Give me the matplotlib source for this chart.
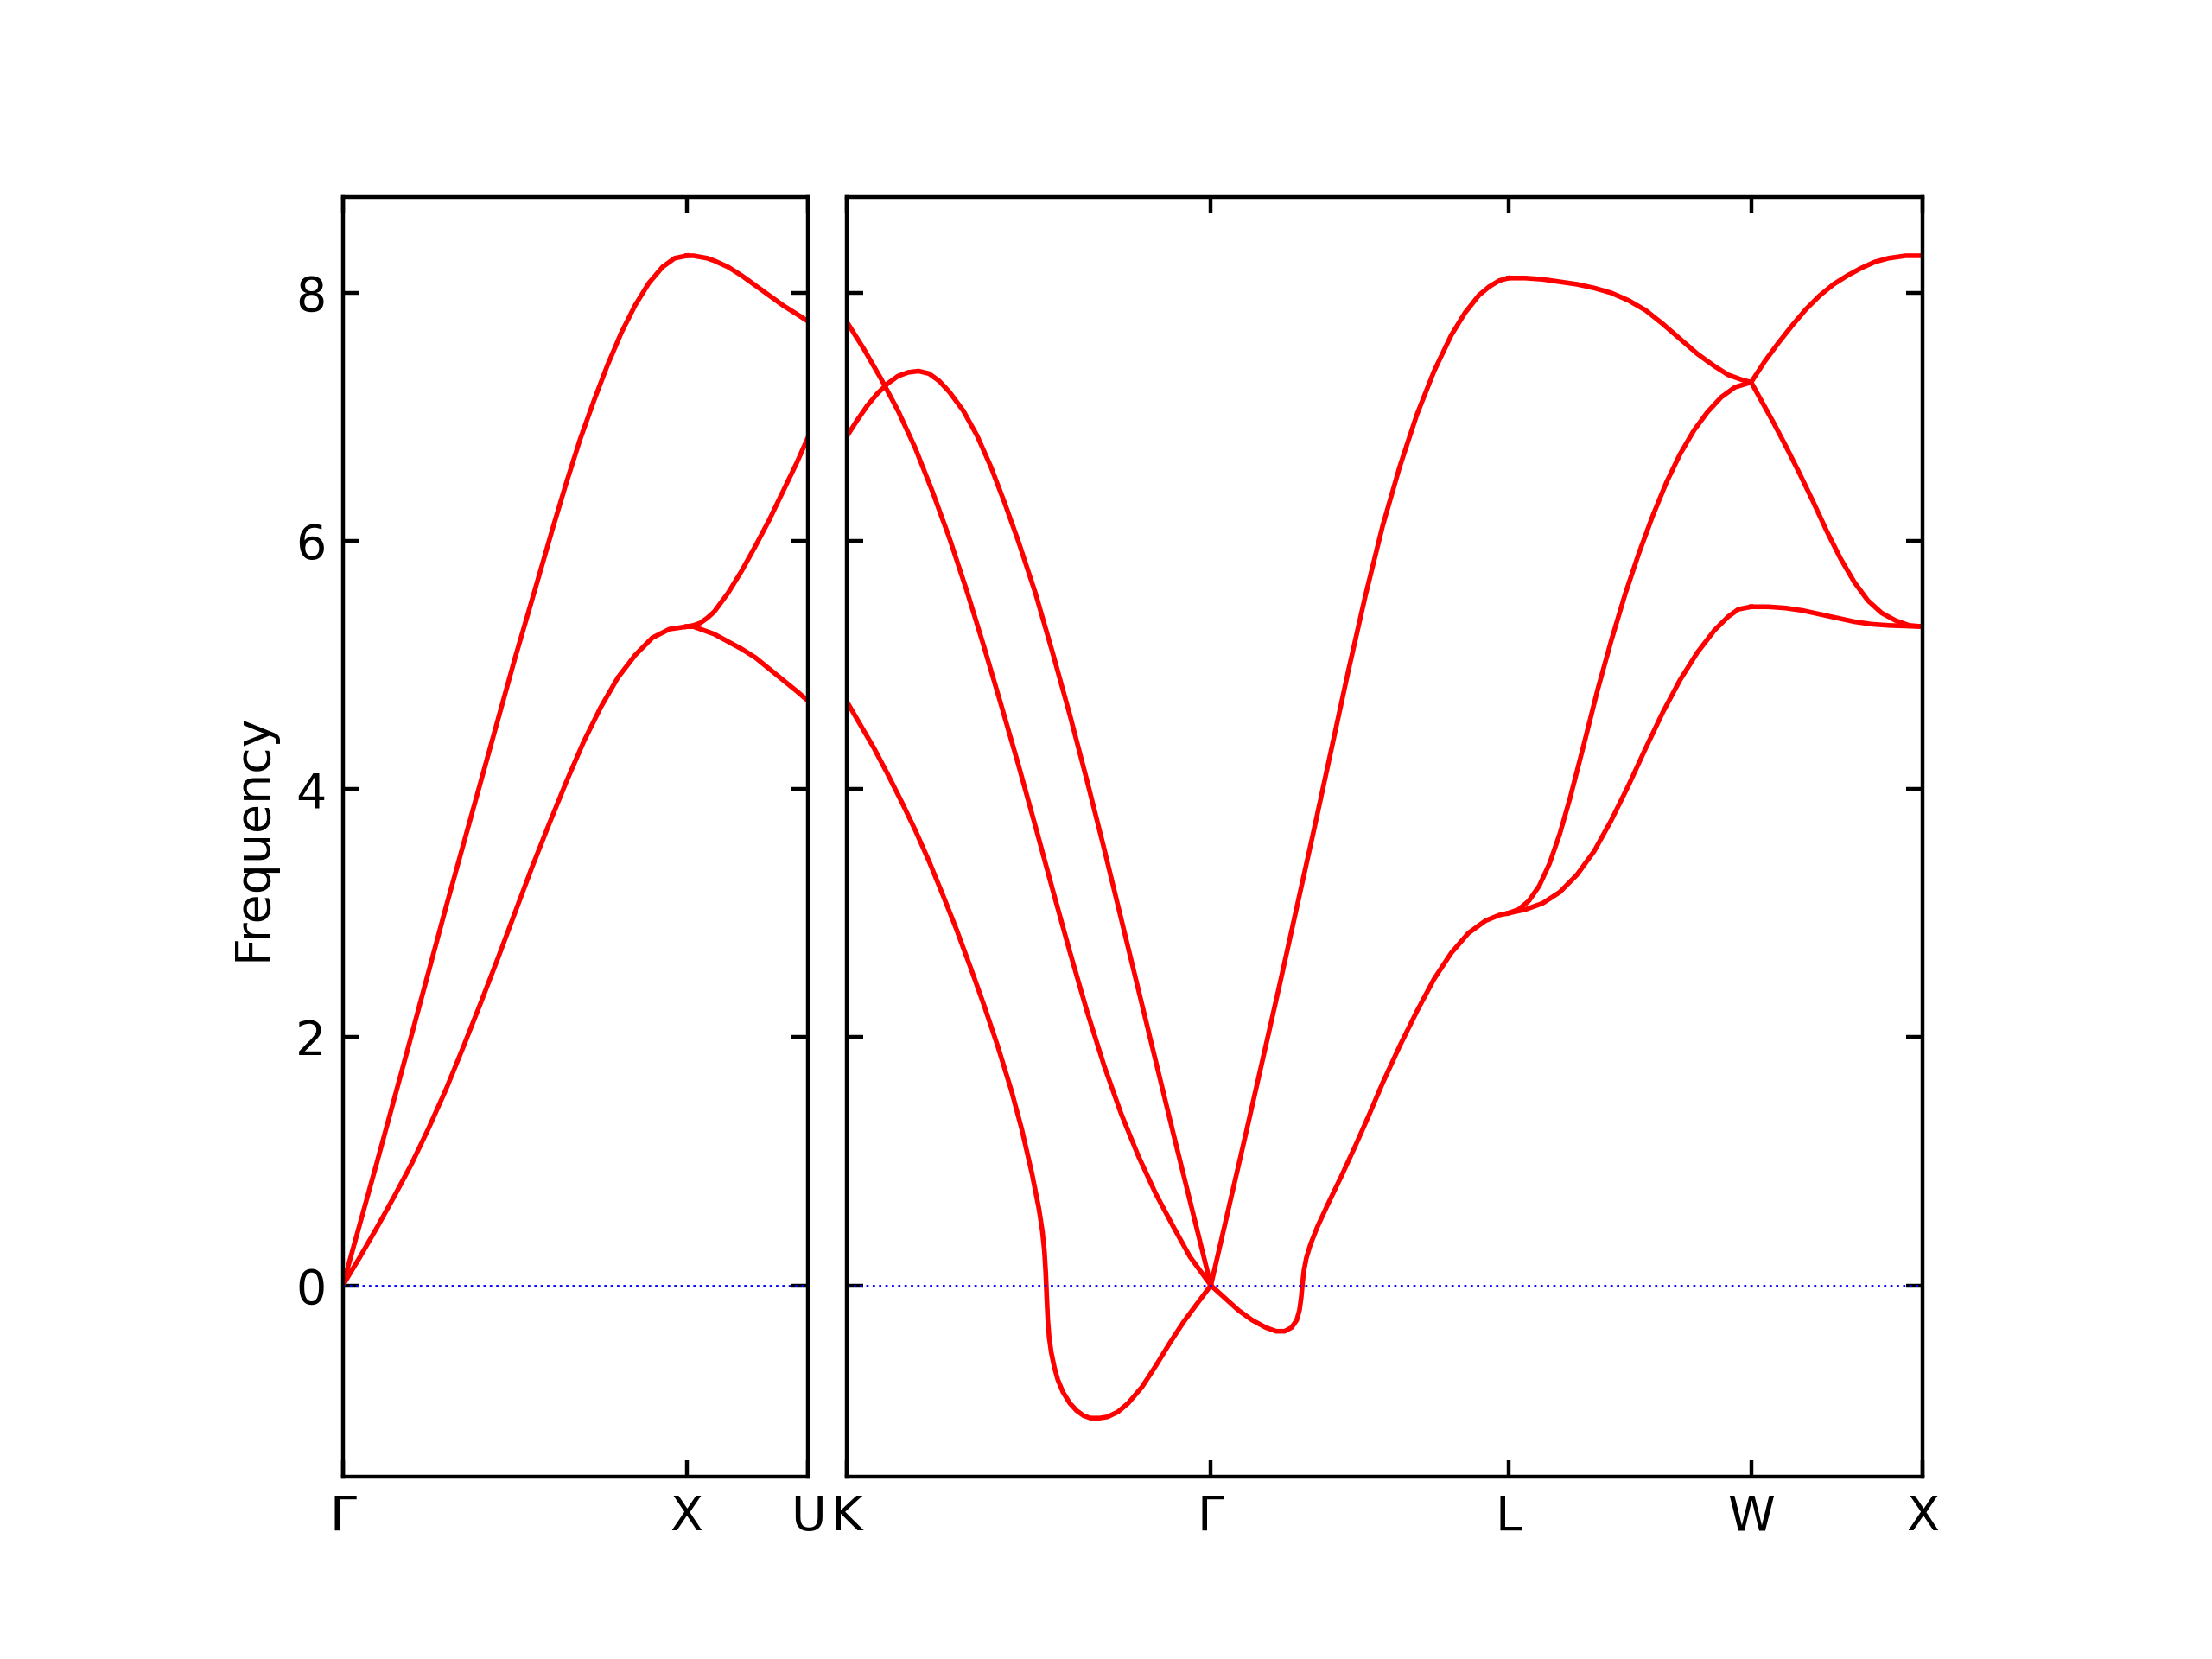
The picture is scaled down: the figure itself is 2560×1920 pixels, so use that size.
import numpy as np
import matplotlib.pyplot as plt

# high symmetry points (path length in units of 2pi/a)
left_ticks = [0.0, 1.0, 1.3536]
left_labels = ['Γ', 'X', 'U']
right_ticks = [0.0, 1.0607, 1.9267, 2.6338, 3.1338]
right_labels = ['K', 'Γ', 'L', 'W', 'X']

# ---- left panel: Gamma - X ----
gx_la_q = [0, 0.1, 0.2, 0.3, 0.4, 0.5, 0.56, 0.61, 0.65, 0.69, 0.73, 0.77, 0.81,
           0.85, 0.89, 0.93, 0.965, 1.0]
gx_la_f = [0, 1.0, 2.02, 3.05, 4.05, 5.05, 5.62, 6.1, 6.47, 6.82, 7.13, 7.42, 7.68,
           7.9, 8.08, 8.21, 8.28, 8.30]
gx_ta_q = [0, 0.05, 0.1, 0.15, 0.2, 0.25, 0.3, 0.35, 0.4, 0.45, 0.5, 0.55, 0.6, 0.65,
           0.7, 0.75, 0.8, 0.85, 0.9, 0.95, 1.0]
gx_ta_f = [0, 0.23, 0.47, 0.72, 0.98, 1.27, 1.58, 1.92, 2.27, 2.63, 3.0, 3.37, 3.72,
           4.06, 4.38, 4.66, 4.9, 5.08, 5.22, 5.29, 5.31]

# ---- X - U ----
xu_q = [1.0, 1.02, 1.04, 1.06, 1.08, 1.12, 1.16, 1.2, 1.24, 1.28, 1.32, 1.3536]
xu_top = [8.30, 8.30, 8.29, 8.28, 8.26, 8.21, 8.14, 8.06, 7.98, 7.9, 7.83, 7.77]
xu_mid = [5.31, 5.32, 5.34, 5.38, 5.43, 5.58, 5.76, 5.96, 6.17, 6.4, 6.63, 6.84]
xu_low = [5.31, 5.31, 5.29, 5.27, 5.25, 5.19, 5.13, 5.06, 4.97, 4.88, 4.79, 4.71]

# ---- right panel: K - Gamma ----
kg_a_q = [0, 0.05, 0.1, 0.15, 0.2, 0.25, 0.3, 0.35, 0.4, 0.45, 0.5, 0.55, 0.6, 0.65,
          0.7, 0.75, 0.8, 0.85, 0.9, 0.95, 1.0, 1.0607]
kg_a_f = [7.77, 7.55, 7.31, 7.05, 6.75, 6.4, 6.02, 5.6, 5.15, 4.68, 4.2, 3.7, 3.19,
          2.69, 2.21, 1.77, 1.38, 1.04, 0.74, 0.48, 0.23, 0]
kg_b_q = [0, 0.03, 0.06, 0.09, 0.12, 0.15, 0.18, 0.21, 0.24, 0.27, 0.3, 0.34, 0.38,
          0.42, 0.46, 0.5, 0.55, 0.6, 0.65, 0.7, 0.75, 0.8, 0.85, 0.9, 0.95, 1.0,
          1.0607]
kg_b_f = [6.84, 6.97, 7.09, 7.19, 7.27, 7.33, 7.36, 7.37, 7.35, 7.29, 7.2, 7.05, 6.85,
          6.6, 6.31, 6.0, 5.58, 5.1, 4.6, 4.07, 3.52, 2.95, 2.38, 1.81, 1.24, 0.68, 0]
kg_c_q = [0, 0.04, 0.08, 0.12, 0.16, 0.2, 0.24, 0.28, 0.32, 0.36, 0.4, 0.44, 0.48,
          0.51, 0.54, 0.56, 0.57, 0.576, 0.58, 0.583, 0.586, 0.59, 0.596, 0.605,
          0.615, 0.63, 0.65, 0.67, 0.69, 0.71, 0.737, 0.76, 0.79, 0.82, 0.86, 0.9,
          0.94, 0.98, 1.02, 1.0607]
kg_c_f = [4.71, 4.52, 4.33, 4.12, 3.9, 3.67, 3.42, 3.15, 2.87, 2.57, 2.26, 1.93, 1.57,
          1.26, 0.9, 0.62, 0.44, 0.28, 0.1, -0.1, -0.28, -0.42, -0.54, -0.66,
          -0.76, -0.86, -0.95, -1.01, -1.05, -1.07, -1.07, -1.06, -1.02, -0.95,
          -0.82, -0.65, -0.47, -0.3, -0.15, 0]

# ---- Gamma - L ----
gl_la_d = [0, 0.1, 0.2, 0.3, 0.4, 0.45, 0.5, 0.55, 0.6, 0.65, 0.7, 0.74, 0.78, 0.81,
           0.84, 0.866]
gl_la_f = [0, 1.2, 2.42, 3.67, 4.95, 5.56, 6.12, 6.6, 7.02, 7.37, 7.66, 7.84, 7.98,
           8.05, 8.1, 8.12]
gl_ta_d = [0, 0.04, 0.08, 0.12, 0.16, 0.19, 0.215, 0.235, 0.25, 0.258, 0.263, 0.267,
           0.271, 0.278, 0.29, 0.31, 0.34, 0.38, 0.42, 0.46, 0.5, 0.55, 0.6, 0.65,
           0.7, 0.75, 0.8, 0.84, 0.866]
gl_ta_f = [0, -0.1, -0.2, -0.28, -0.34, -0.37, -0.37, -0.34, -0.28, -0.2, -0.1, 0.02,
           0.12, 0.22, 0.33, 0.47, 0.65, 0.88, 1.12, 1.37, 1.63, 1.93, 2.21, 2.47,
           2.68, 2.84, 2.94, 2.985, 3.0]

# ---- L - W ----
lw_top_d = [0, 0.05, 0.1, 0.15, 0.2, 0.25, 0.3, 0.35, 0.4, 0.45, 0.5, 0.55, 0.6,
            0.64, 0.68, 0.7071]
lw_top_f = [8.12, 8.12, 8.11, 8.09, 8.07, 8.04, 8.0, 7.94, 7.86, 7.75, 7.63, 7.51,
            7.41, 7.34, 7.3, 7.28]
lw_mid_d = [0, 0.03, 0.06, 0.09, 0.12, 0.15, 0.18, 0.22, 0.26, 0.3, 0.34, 0.38, 0.42,
            0.46, 0.5, 0.54, 0.58, 0.62, 0.66, 0.7071]
lw_mid_f = [3.0, 3.03, 3.1, 3.22, 3.4, 3.64, 3.93, 4.36, 4.8, 5.2, 5.57, 5.9, 6.2,
            6.47, 6.7, 6.89, 7.04, 7.16, 7.24, 7.28]
lw_low_d = [0, 0.05, 0.1, 0.15, 0.2, 0.25, 0.3, 0.35, 0.4, 0.45, 0.5, 0.55, 0.6, 0.64,
            0.67, 0.7071]
lw_low_f = [3.0, 3.03, 3.08, 3.17, 3.31, 3.5, 3.75, 4.03, 4.33, 4.62, 4.88, 5.1, 5.28,
            5.39, 5.45, 5.47]

# ---- W - X ----
wx_top_d = [0, 0.04, 0.08, 0.12, 0.16, 0.2, 0.24, 0.28, 0.32, 0.36, 0.4, 0.45, 0.5]
wx_top_f = [7.28, 7.45, 7.6, 7.74, 7.87, 7.98, 8.07, 8.14, 8.2, 8.25, 8.28, 8.3, 8.3]
wx_mid_d = [0, 0.03, 0.064, 0.1, 0.14, 0.18, 0.22, 0.26, 0.3, 0.34, 0.38, 0.42, 0.46,
            0.5]
wx_mid_f = [7.28, 7.13, 6.96, 6.77, 6.55, 6.32, 6.08, 5.86, 5.67, 5.52, 5.42, 5.36,
            5.32, 5.31]
wx_low_d = [0, 0.05, 0.1, 0.15, 0.2, 0.25, 0.3, 0.35, 0.4, 0.5]
wx_low_f = [5.47, 5.47, 5.46, 5.44, 5.41, 5.38, 5.35, 5.33, 5.32, 5.31]

ymin, ymax = -1.545, 8.77

fig = plt.figure(figsize=(6.4, 4.8), dpi=400)
ax1 = fig.add_axes([0.155, 0.1097, 0.2104, 0.7713])
ax2 = fig.add_axes([0.3827, 0.1097, 0.4866, 0.7713])

lw = 1.0
# left panel
ax1.plot(gx_la_q, gx_la_f, 'r-', lw=lw)
ax1.plot(gx_ta_q, gx_ta_f, 'r-', lw=lw)
for band in (xu_top, xu_mid, xu_low):
    ax1.plot(xu_q, band, 'r-', lw=lw)

# right panel
ax2.plot(kg_a_q, kg_a_f, 'r-', lw=lw)
ax2.plot(kg_b_q, kg_b_f, 'r-', lw=lw)
ax2.plot(kg_c_q, kg_c_f, 'r-', lw=lw)

g = right_ticks[1]
ax2.plot(np.array(gl_la_d) + g, gl_la_f, 'r-', lw=lw)
ax2.plot(np.array(gl_ta_d) + g, gl_ta_f, 'r-', lw=lw)

l = right_ticks[2]
for d, f in ((lw_top_d, lw_top_f), (lw_mid_d, lw_mid_f), (lw_low_d, lw_low_f)):
    ax2.plot(np.array(d) + l, f, 'r-', lw=lw)

w = right_ticks[3]
for d, f in ((wx_top_d, wx_top_f), (wx_mid_d, wx_mid_f), (wx_low_d, wx_low_f)):
    ax2.plot(np.array(d) + w, f, 'r-', lw=lw)

for ax, ticks, labels in ((ax1, left_ticks, left_labels), (ax2, right_ticks, right_labels)):
    ax.axhline(0, color='b', ls=':', lw=0.5)
    ax.set_xlim(ticks[0], ticks[-1])
    ax.set_ylim(ymin, ymax)
    ax.set_xticks(ticks)
    ax.set_xticklabels(labels)
    ax.set_yticks([0, 2, 4, 6, 8])
    ax.tick_params(direction='in', top=True, right=True)

ax2.set_yticklabels([])
ax1.set_ylabel('Frequency')

fig.savefig('out.png', dpi=400)
